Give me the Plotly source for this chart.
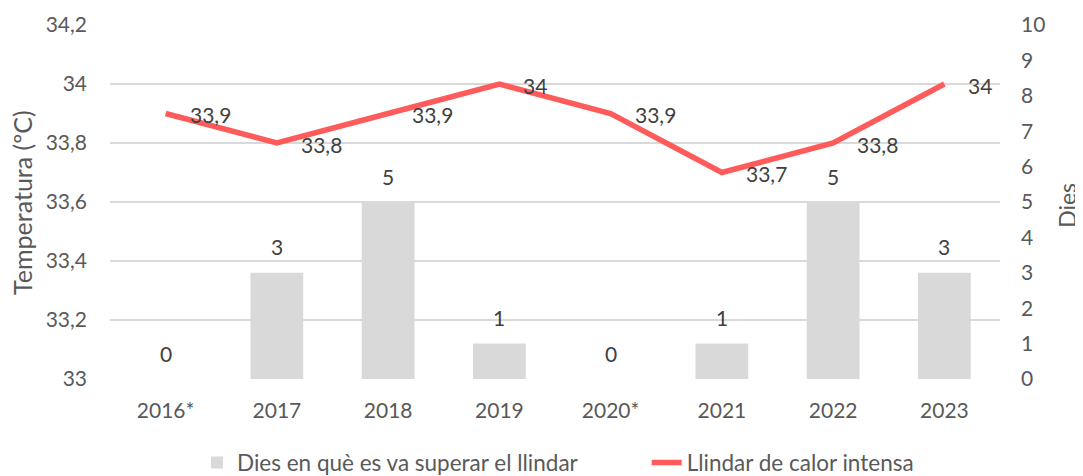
import plotly.graph_objects as go

years = ["2016*", "2017", "2018", "2019", "2020*", "2021", "2022", "2023"]
dies = [0, 3, 5, 1, 0, 1, 5, 3]
llindar = [33.9, 33.8, 33.9, 34.0, 33.9, 33.7, 33.8, 34.0]
temp_ticks = [33.0, 33.2, 33.4, 33.6, 33.8, 34.0, 34.2]
temp_tick_labels = ["33", "33,2", "33,4", "33,6", "33,8", "34", "34,2"]
dies_ticks = list(range(0, 11))

FONT = "Lato"
TXT = "#595959"
LBL = "#404040"
GRID = "#D9D9D9"
BAR = "#D9D9D9"
LINE = "#FF5B5B"

def fmt(v):
    s = f"{v:.1f}".rstrip("0").rstrip(".")
    return s.replace(".", ",")

fig = go.Figure()
fig.add_trace(go.Bar(
    x=years, y=dies, yaxis="y2", name="Dies en què es va superar el llindar",
    marker=dict(color=BAR, line=dict(width=0)), legend="legend",
))
fig.add_trace(go.Scatter(
    x=years, y=llindar, yaxis="y", mode="lines", name="Llindar de calor intensa",
    line=dict(color=LINE, width=5.5), legend="legend2",
))

ann = []
for i, v in enumerate(llindar):
    ann.append(dict(x=i, y=v, xref="x", yref="y", text=fmt(v), showarrow=False,
                    xanchor="left", yanchor="middle", xshift=22, yshift=-1,
                    font=dict(family=FONT, size=21, color=LBL)))
for i, v in enumerate(dies):
    ann.append(dict(x=i, y=v, xref="x", yref="y2", text=str(v), showarrow=False,
                    xanchor="center", yanchor="middle", yshift=26,
                    font=dict(family=FONT, size=21, color=LBL)))
ann.append(dict(x=-0.099, y=0.5, xref="paper", yref="paper", text="Temperatura (ºC)",
                textangle=-90, showarrow=False, xanchor="center", yanchor="middle",
                font=dict(family=FONT, size=25, color=TXT)))
ann.append(dict(x=1.0925, y=0.49, xref="paper", yref="paper", text="Dies",
                textangle=-90, showarrow=False, xanchor="right", yanchor="middle",
                font=dict(family=FONT, size=23, color=TXT)))

legend_common = dict(orientation="h", yanchor="middle", y=-0.237,
                     font=dict(family=FONT, size=22.5, color=TXT), itemwidth=30,
                     bgcolor="rgba(0,0,0,0)")

fig.update_layout(
    width=1075, height=468,
    margin=dict(l=102, r=83, t=17, b=97, autoexpand=False),
    plot_bgcolor="white", paper_bgcolor="white",
    font=dict(family=FONT, size=21, color=TXT),
    bargap=0.526,
    xaxis=dict(type="category", range=[-0.5, len(years) - 0.5], showgrid=False,
               showline=False, zeroline=False, automargin=False,
               tickfont=dict(family=FONT, size=21, color=TXT), ticklabelstandoff=17),
    yaxis=dict(side="left", range=[33.0, 34.2], tickvals=temp_ticks, ticktext=temp_tick_labels,
               showgrid=True, gridcolor=GRID, gridwidth=1.5, zeroline=False, showline=False,
               automargin=False,
               tickfont=dict(family=FONT, size=21, color=TXT), ticklabelstandoff=22),
    yaxis2=dict(side="right", overlaying="y", anchor="x", range=[0, 10], tickvals=dies_ticks,
                showgrid=False, zeroline=False, showline=False, automargin=False,
                tickfont=dict(family=FONT, size=21, color=TXT), ticklabelstandoff=20),
    legend=dict(x=0.0978, xanchor="left", **legend_common),
    legend2=dict(x=0.603, xanchor="left", **legend_common),
    annotations=ann,
    showlegend=True,
)

fig.write_html("out.html")
